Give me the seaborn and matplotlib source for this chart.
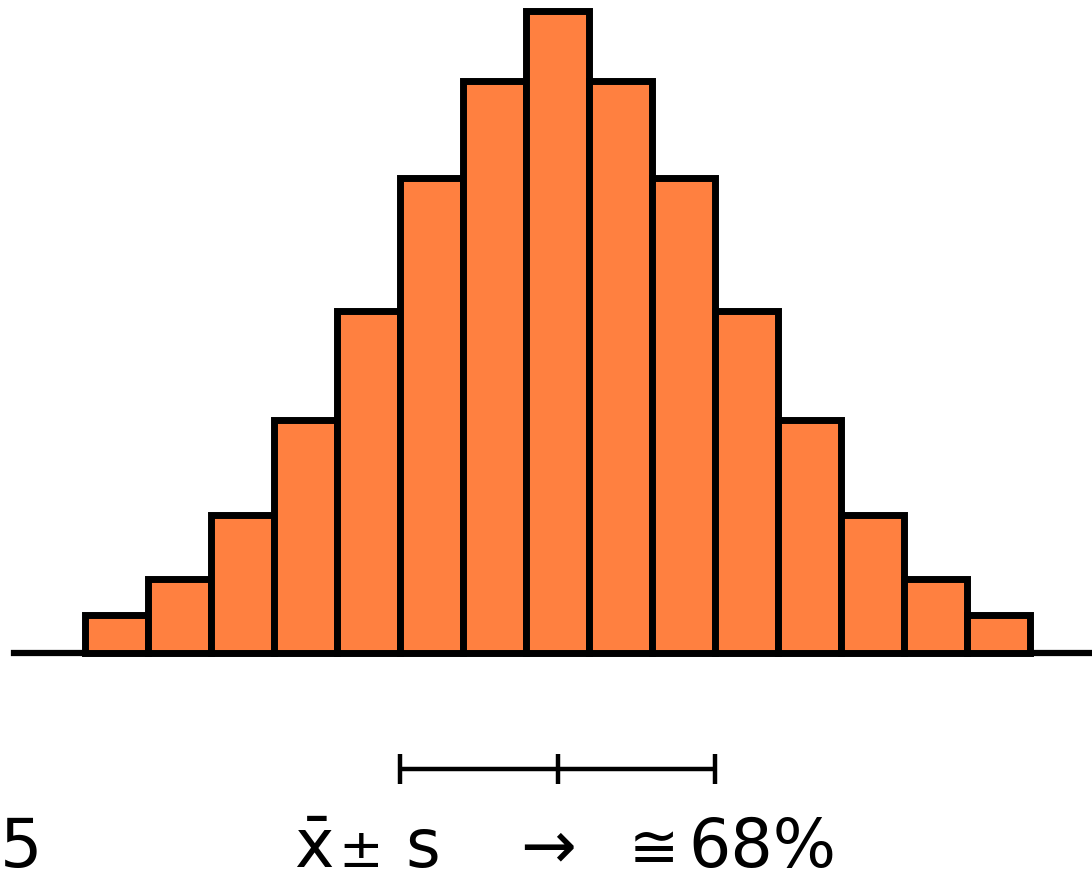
import numpy as np
import pandas as pd
import matplotlib
matplotlib.use("Agg")
import matplotlib.pyplot as plt
import seaborn as sns

# ---- data ----
bin_centers = list(range(-7, 8))
frequencies = [38, 74, 138, 233, 342, 475, 572, 642, 572, 475, 342, 233, 138, 74, 38]
mean_value = 0.0
sd_value = 2.5
label_left = "5"
label_parts = ["x̄", "±", "s", "→", "≅", "68%"]

df = pd.DataFrame({"x": bin_centers, "f": frequencies})

sns.set_theme(style="white")
plt.rcParams['font.family'] = ['DejaVu Sans']
plt.rcParams['text.color'] = 'black'

fig = plt.figure(figsize=(10.92, 8.80), dpi=100)
ax = fig.add_axes([0, 0, 1, 1])

sns.histplot(data=df, x="x", weights="f", binwidth=1, binrange=(-7.5, 7.5), ax=ax,
             color="#FF8040", edgecolor="black", linewidth=5, alpha=1)

# pixel-like scaling: 63 px per bin, baseline at y=653 px from top
ax.set_xlim(-557.5 / 63, (1092 - 557.5) / 63)
ax.set_ylim(-227, 653)
ax.set_xticks([])
ax.set_yticks([])
ax.set_xlabel("")
ax.set_ylabel("")
for s in ["top", "left", "right"]:
    ax.spines[s].set_visible(False)
ax.spines["bottom"].set_position(("data", 0))
ax.spines["bottom"].set_bounds(-543.5 / 63, (1092 - 557.5) / 63)
ax.spines["bottom"].set_linewidth(4.5)
ax.spines["bottom"].set_color("black")
ax.spines["bottom"].set_zorder(0.5)

# bracket for mean +/- sd
yb = -116
ax.plot([mean_value - sd_value, mean_value + sd_value], [yb, yb], color="black", lw=3.2, solid_capstyle="butt")
for xv in [mean_value - sd_value, mean_value, mean_value + sd_value]:
    ax.plot([xv, xv], [yb - 15, yb + 15], color="black", lw=3.2, solid_capstyle="butt")

# labels
def px(x):
    return (x - 557.5) / 63

ty = -214
fs = 48
kw = dict(va="baseline", color="black")
ax.text(px(0), ty, label_left, fontsize=fs, ha="left", **kw)
ax.text(px(314), ty, label_parts[0], fontsize=fs, ha="center", **kw)
ax.text(px(361), ty, label_parts[1], fontsize=fs * 0.8, ha="center", **kw)
ax.text(px(423), ty, label_parts[2], fontsize=fs, ha="center", **kw)
ax.text(px(548), ty, label_parts[3], fontsize=fs, ha="center", **kw)
ax.text(px(654), ty, label_parts[4], fontsize=fs * 0.9, ha="center", **kw)
ax.text(px(688), ty, label_parts[5], fontsize=fs, ha="left", **kw)

fig.savefig("out.png", dpi=100, facecolor="white")
